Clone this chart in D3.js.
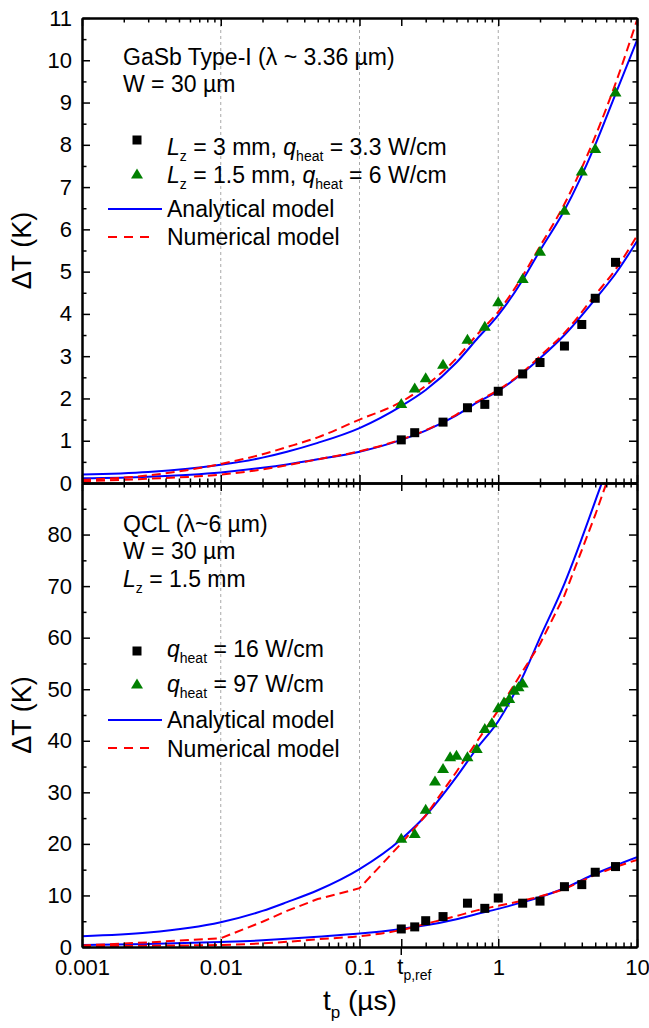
<!DOCTYPE html>
<html lang="en">
<head>
<meta charset="UTF-8">
<title>Delta T vs pulse width</title>
<script src="https://d3js.org/d3.v7.min.js"></script>
<style>
  body { margin:0; background:#fff; }
  svg { display:block; font-family:"Liberation Sans", Arial, sans-serif; }
  .axis path { stroke:#000; stroke-width:2; }
  .axis line { stroke:#000; stroke-width:1.5; }
  .axis text { font-size:22px; fill:#000; font-family:"Liberation Sans", Arial, sans-serif; }
  .note { font-size:23px; fill:#000; }
</style>
</head>
<body>
<div id="chart"></div>
<script>
// time grid (µs) of the model curves
const tpModel = [0.001,0.003,0.01,0.02,0.03,0.05,0.1,0.2,0.3,0.5,0.7,1,1.5,2,3,5,7,10];

// upper panel: GaSb type-I
const gasbSqT   = [0.2,0.25,0.4,0.6,0.8,1,1.5,2,3,4,5,7];
const gasbSqDT  = [1.02,1.19,1.44,1.78,1.86,2.17,2.58,2.85,3.24,3.75,4.37,5.22];
const gasbTriT  = [0.2,0.25,0.3,0.4,0.6,0.8,1,1.5,2,3,4,5,7];
const gasbTriDT = [1.88,2.25,2.49,2.81,3.40,3.71,4.29,4.84,5.48,6.45,7.38,7.91,9.25];
const gasbAna3  = [0.11,0.15,0.25,0.36,0.44,0.56,0.74,1.02,1.24,1.6,1.9,2.18,2.6,2.95,3.5,4.35,4.95,5.72];
const gasbNum3  = [0.04,0.1,0.2,0.32,0.42,0.56,0.75,1.03,1.25,1.62,1.92,2.2,2.62,3.0,3.55,4.45,5.05,5.85];
const gasbAna15 = [0.2,0.26,0.43,0.6,0.74,0.95,1.3,1.82,2.2,2.85,3.4,3.97,4.8,5.5,6.45,8.0,9.2,10.47];
const gasbNum15 = [0.07,0.18,0.45,0.68,0.85,1.08,1.5,1.92,2.3,2.95,3.5,4.05,4.9,5.6,6.6,8.2,9.45,10.95];

// lower panel: QCL
const qclSqT   = [0.2,0.25,0.3,0.4,0.6,0.8,1,1.5,2,3,4,5,7];
const qclSqDT  = [3.5,3.9,5.1,5.9,8.5,7.5,9.5,8.5,8.9,11.7,12.1,14.5,15.6];
const qclTriT  = [0.2,0.25,0.3,0.35,0.4,0.45,0.5,0.6,0.7,0.8,0.9,1,1.1,1.2,1.3,1.4,1.5];
const qclTriDT = [21.1,22.0,26.7,32.2,34.6,36.9,37.2,36.9,38.5,42.4,43.5,46.4,47.5,48.2,49.8,50.5,51.2];
const qclAna16 = [0.39,0.6,0.97,1.3,1.6,2.0,2.6,3.5,4.2,5.4,6.4,7.4,8.7,9.7,11.4,14.2,15.8,17.4];
const qclNum16 = [0.15,0.25,0.4,0.7,1.0,1.5,2.1,3.3,4.5,6.0,7.1,8.0,9.0,9.8,11.3,14.0,15.5,16.9];
const qclAna97 = [2.1,2.8,4.8,7.0,8.7,11.0,15.1,20.9,25.5,33.0,38.5,43.8,52.4,60,70.5,86.5,98,115];
const qclNum97 = [0.3,0.9,1.7,4.9,7.0,9.3,11.4,20.1,25.5,34.0,39.8,45.9,53.5,58.8,68.2,83.8,95,110];

// ticks
const xMajor = [0.001,0.01,0.1,0.2,1,10];
const xLabelVals = [0.001,0.01,0.1,1,10];
const xLabels = ["0.001","0.01","0.1","1","10"];
const xGrid = [0.01,0.1,1];
const tpRef = 0.2;
const yTopMajor = d3.range(0,12,1);
const yTopMinor = d3.range(0.5,11,1);
const yBotMajor = d3.range(0,100,10);
const yBotMinor = d3.range(5,90,10);
const yBotLabels = d3.range(0,90,10);

const W = 649, H = 1028;
const svg = d3.select("#chart").append("svg").attr("width", W).attr("height", H);

const x = d3.scaleLog().domain([0.001,10]).range([82,637]);
const yTop = d3.scaleLinear().domain([0,11]).range([483,18]);
const yBot = d3.scaleLinear().domain([0,90]).range([947,483]);

let xMinor = [];
[0.001,0.01,0.1,1].forEach(function(d) {
    for (let k = 2; k < 10; k++) {
        const v = +(d*k).toPrecision(3);
        if (v !== tpRef) xMinor.push(v);
    }
});

// dashed grid
svg.append("g").selectAll("line").data(xGrid).enter().append("line")
    .attr("x1", d => x(d)).attr("x2", d => x(d))
    .attr("y1", yTop(11)).attr("y2", yBot(0))
    .attr("stroke", "#a8a8a8").attr("stroke-width", 1).attr("stroke-dasharray", "3,3");

function clipFor(id, y) {
    svg.append("clipPath").attr("id", id).append("rect")
        .attr("x", x.range()[0]).attr("y", y.range()[1])
        .attr("width", x.range()[1]-x.range()[0]).attr("height", y.range()[0]-y.range()[1]);
}
clipFor("clipTop", yTop);
clipFor("clipBot", yBot);

function curve(vals, y, color, dashed, clip, kinked) {
    const line = d3.line().x(d => x(d[0])).y(d => y(d[1]))
        .curve(kinked ? d3.curveLinear : d3.curveMonotoneX);
    svg.append("path")
        .datum(tpModel.map((t, i) => [t, vals[i]]))
        .attr("d", line)
        .attr("fill", "none")
        .attr("stroke", color)
        .attr("stroke-width", 2)
        .attr("stroke-dasharray", dashed ? "9,5" : null)
        .attr("clip-path", "url(#" + clip + ")");
}

const triPath = "M0,-5.5L6,4.5L-6,4.5Z";

function squares(ts, vs, y) {
    svg.append("g").selectAll("rect").data(ts).enter().append("rect")
        .attr("x", d => x(d) - 4.5).attr("y", (d, i) => y(vs[i]) - 4.5)
        .attr("width", 9).attr("height", 9).attr("fill", "#000");
}
function triangles(ts, vs, y) {
    svg.append("g").selectAll("path").data(ts).enter().append("path")
        .attr("d", triPath)
        .attr("transform", (d, i) => "translate(" + x(d) + "," + y(vs[i]) + ")")
        .attr("fill", "#008000");
}

// upper panel
curve(gasbAna3, yTop, "#0000ff", false, "clipTop");
curve(gasbAna15, yTop, "#0000ff", false, "clipTop");
curve(gasbNum3, yTop, "#ff0000", true, "clipTop");
curve(gasbNum15, yTop, "#ff0000", true, "clipTop");
squares(gasbSqT, gasbSqDT, yTop);
triangles(gasbTriT, gasbTriDT, yTop);

// lower panel
curve(qclAna16, yBot, "#0000ff", false, "clipBot");
curve(qclAna97, yBot, "#0000ff", false, "clipBot");
curve(qclNum16, yBot, "#ff0000", true, "clipBot");
curve(qclNum97, yBot, "#ff0000", true, "clipBot", true);
squares(qclSqT, qclSqDT, yBot);
triangles(qclTriT, qclTriDT, yBot);

// axes
function addAxis(gen, tx, ty) {
    return svg.append("g").attr("class", "axis")
        .attr("transform", "translate(" + tx + "," + ty + ")")
        .call(gen);
}
function xAxes(axisFn, ty, labels) {
    addAxis(axisFn(x).tickValues(xMinor).tickSizeInner(-4.5).tickSizeOuter(0).tickFormat(""), 0, ty);
    const a = axisFn(x).tickValues(xMajor).tickSizeInner(-8).tickSizeOuter(0).tickPadding(12)
        .tickFormat(d => labels ? (xLabels[xLabelVals.indexOf(d)] || "") : "");
    addAxis(a, 0, ty);
}
xAxes(d3.axisTop, yTop(11), false);
xAxes(d3.axisBottom, yTop(0), false);
xAxes(d3.axisTop, yBot(90), false);
xAxes(d3.axisBottom, yBot(0), true);

// tp,ref tick reaching below the bottom axis
svg.append("line")
    .attr("x1", x(tpRef)).attr("x2", x(tpRef))
    .attr("y1", yBot(0)).attr("y2", yBot(0) + 8)
    .attr("stroke", "#000").attr("stroke-width", 1.5);

function yAxes(y, major, minor, labels) {
    addAxis(d3.axisLeft(y).tickValues(minor).tickSizeInner(-4.5).tickSizeOuter(0).tickFormat(""), x(0.001), 0);
    addAxis(d3.axisLeft(y).tickValues(major).tickSizeInner(-8).tickSizeOuter(0).tickPadding(10)
        .tickFormat(d => labels.indexOf(d) >= 0 ? String(d) : ""), x(0.001), 0);
    addAxis(d3.axisRight(y).tickValues(minor).tickSizeInner(-4.5).tickSizeOuter(0).tickFormat(""), x(10), 0);
    addAxis(d3.axisRight(y).tickValues(major).tickSizeInner(-8).tickSizeOuter(0).tickFormat(""), x(10), 0);
}
yAxes(yTop, yTopMajor, yTopMinor, yTopMajor);
yAxes(yBot, yBotMajor, yBotMinor, yBotLabels);

// text with italic parts and subscripts
function rich(px, py, parts, size) {
    const t = svg.append("text").attr("x", px).attr("y", py)
        .attr("class", "note").style("font-size", size + "px");
    let shifted = false;
    parts.forEach(function(p) {
        const s = t.append("tspan").text(p.t);
        if (p.i) s.style("font-style", "italic");
        if (p.sub) {
            s.style("font-size", Math.round(size * 0.62) + "px").attr("dy", size * 0.28);
            shifted = true;
        } else if (shifted) {
            s.attr("dy", -size * 0.28);
            shifted = false;
        }
    });
    return t;
}

// tp,ref label
rich(x(tpRef) - 4, 974, [{t:"t"}, {t:"p,ref", sub:true}], 22);

// axis titles
svg.append("text").attr("class", "note").style("font-size", "27px")
    .attr("text-anchor", "middle")
    .attr("transform", "translate(31," + yTop(5.5) + ") rotate(-90)")
    .text("\u0394T (K)");
svg.append("text").attr("class", "note").style("font-size", "27px")
    .attr("text-anchor", "middle")
    .attr("transform", "translate(31," + yBot(45) + ") rotate(-90)")
    .text("\u0394T (K)");
rich(323, 1010, [{t:"t"}, {t:"p", sub:true}, {t:" (\u00b5s)"}], 28);

// upper panel annotations
rich(123, 65, [{t:"GaSb Type-I (\u03bb ~ 3.36 \u00b5m)"}], 23);
rich(123, 92, [{t:"W = 30 \u00b5m"}], 23);
rich(167, 155, [{t:"L", i:true}, {t:"z", sub:true}, {t:" = 3 mm, "}, {t:"q", i:true}, {t:"heat", sub:true}, {t:" = 3.3 W/cm"}], 23);
rich(167, 183, [{t:"L", i:true}, {t:"z", sub:true}, {t:" = 1.5 mm, "}, {t:"q", i:true}, {t:"heat", sub:true}, {t:" = 6 W/cm"}], 23);
rich(167, 217, [{t:"Analytical model"}], 23);
rich(167, 245, [{t:"Numerical model"}], 23);

// lower panel annotations
rich(123, 532, [{t:"QCL (\u03bb~6 \u00b5m)"}], 23);
rich(123, 559, [{t:"W = 30 \u00b5m"}], 23);
rich(123, 587, [{t:"L", i:true}, {t:"z", sub:true}, {t:" = 1.5 mm"}], 23);
rich(167, 657, [{t:"q", i:true}, {t:"heat", sub:true}, {t:" = 16 W/cm"}], 23);
rich(167, 692, [{t:"q", i:true}, {t:"heat", sub:true}, {t:" = 97 W/cm"}], 23);
rich(167, 728, [{t:"Analytical model"}], 23);
rich(167, 757, [{t:"Numerical model"}], 23);

// legend symbols
function legendSymbols(sqY, triY, anaY, numY) {
    svg.append("rect").attr("x", 137 - 4.5).attr("y", sqY - 4.5).attr("width", 9).attr("height", 9).attr("fill", "#000");
    svg.append("path").attr("d", triPath).attr("transform", "translate(137," + triY + ")").attr("fill", "#008000");
    svg.append("line").attr("x1", 108).attr("x2", 162).attr("y1", anaY).attr("y2", anaY)
        .attr("stroke", "#0000ff").attr("stroke-width", 2);
    svg.append("line").attr("x1", 108).attr("x2", 155).attr("y1", numY).attr("y2", numY)
        .attr("stroke", "#ff0000").attr("stroke-width", 2).attr("stroke-dasharray", "9,7");
}
legendSymbols(140, 174, 209, 237);
legendSymbols(651, 684, 720, 748);
</script>
</body>
</html>
